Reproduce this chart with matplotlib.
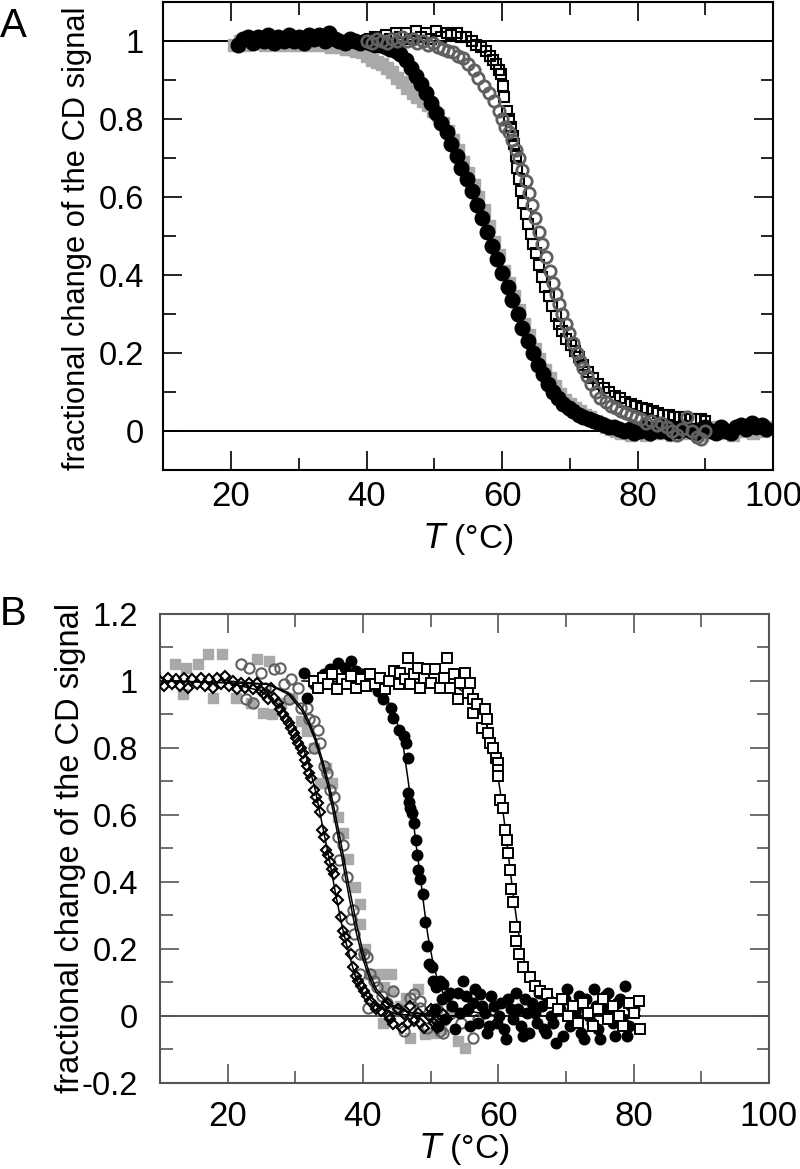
import matplotlib
matplotlib.use("Agg")
import matplotlib.pyplot as plt
from matplotlib.ticker import MultipleLocator, FuncFormatter

plt.rcParams['font.family'] = ['Liberation Sans', 'DejaVu Sans']
plt.rcParams['axes.unicode_minus'] = False

# ---- panel A data (T in degC, fractional change) ----
a_gray_sq = [(20.5, 0.99), (21.3, 1.0), (22.0, 0.99), (22.8, 1.0), (23.5, 0.995), (24.3, 1.0),
             (25.0, 0.99), (25.8, 0.995), (26.5, 1.0), (27.3, 0.99), (28.0, 0.995), (28.8, 0.99),
             (29.5, 1.0), (30.3, 0.99), (31.0, 0.995), (31.8, 0.99), (32.5, 0.995), (33.3, 0.99),
             (34.0, 0.99), (34.8, 0.985), (35.5, 0.99), (36.3, 0.985), (37.0, 0.98), (37.8, 0.98),
             (38.5, 0.975), (39.3, 0.97), (40.0, 0.96), (40.8, 0.95), (41.5, 0.945), (42.3, 0.94),
             (43.0, 0.93), (43.8, 0.92), (44.5, 0.905), (45.3, 0.895), (46.0, 0.88), (46.8, 0.865),
             (47.5, 0.855), (48.3, 0.845), (49.0, 0.835), (49.8, 0.82), (50.5, 0.81), (51.3, 0.79),
             (52.0, 0.77), (52.8, 0.745), (53.5, 0.72), (54.3, 0.69), (55.0, 0.66), (55.8, 0.63),
             (56.5, 0.60), (57.3, 0.565), (58.0, 0.525), (58.8, 0.485), (59.5, 0.45), (60.3, 0.41),
             (61.0, 0.38), (61.8, 0.345), (62.5, 0.31), (63.3, 0.275), (64.0, 0.245), (64.8, 0.21),
             (65.5, 0.185), (66.3, 0.155), (67.0, 0.135), (67.8, 0.115), (68.5, 0.095), (69.3, 0.08),
             (70.0, 0.07), (70.8, 0.06), (71.5, 0.05), (72.3, 0.04), (73.0, 0.035), (73.8, 0.025),
             (74.5, 0.02), (75.3, 0.01), (76.0, 0.005), (76.8, 0.0), (77.5, -0.005), (78.3, 0.0),
             (79.0, -0.01), (79.8, 0.005), (80.5, 0.0), (81.3, -0.01), (82.0, 0.01), (82.8, 0.0),
             (83.5, -0.005), (84.3, 0.005), (85.0, -0.01), (85.8, 0.0), (86.5, 0.01), (87.3, -0.005),
             (88.0, 0.0), (88.8, 0.005), (89.5, -0.01), (90.3, 0.0), (91.0, 0.01), (91.8, -0.005),
             (92.5, 0.005), (93.3, 0.0), (94.0, -0.01), (94.8, 0.005), (95.5, 0.0), (96.3, 0.01),
             (97.0, -0.005), (97.8, 0.005), (98.5, 0.0), (99.3, 0.01)]

a_black_circ = [(21.0, 0.99), (21.8, 1.005), (22.5, 1.01), (23.3, 0.995), (24.0, 1.01), (24.8, 1.0),
                (25.5, 1.015), (26.3, 0.995), (27.0, 1.01), (27.8, 1.0), (28.5, 1.015), (29.3, 1.0),
                (30.0, 1.01), (30.8, 0.995), (31.5, 1.015), (32.3, 1.005), (33.0, 1.015), (33.8, 1.0),
                (34.5, 1.02), (35.3, 1.005), (36.0, 1.0), (36.8, 0.995), (37.5, 1.005), (38.3, 1.0),
                (39.0, 0.995), (39.8, 1.0), (40.5, 0.995), (41.3, 0.99), (42.0, 0.99), (42.8, 0.985),
                (43.5, 0.98), (44.3, 0.975), (45.0, 0.965), (45.8, 0.95), (46.5, 0.93), (47.3, 0.91),
                (48.0, 0.89), (48.8, 0.865), (49.5, 0.84), (50.3, 0.815), (51.0, 0.79), (51.8, 0.765),
                (52.5, 0.735), (53.3, 0.705), (54.0, 0.675), (54.8, 0.645), (55.5, 0.615), (56.3, 0.58),
                (57.0, 0.545), (57.8, 0.51), (58.5, 0.475), (59.3, 0.44), (60.0, 0.405), (60.8, 0.37),
                (61.5, 0.335), (62.3, 0.30), (63.0, 0.265), (63.8, 0.23), (64.5, 0.20), (65.3, 0.17),
                (66.0, 0.145), (66.8, 0.12), (67.5, 0.10), (68.3, 0.085), (69.0, 0.07), (69.8, 0.06),
                (70.5, 0.05), (71.3, 0.04), (72.0, 0.035), (72.8, 0.03), (73.5, 0.025), (74.3, 0.02),
                (75.0, 0.015), (75.8, 0.01), (76.5, 0.01), (77.3, 0.005), (78.0, 0.0), (78.8, 0.005),
                (79.5, -0.005), (80.3, 0.0), (81.0, 0.01), (81.8, -0.005), (82.5, 0.005), (83.3, 0.0),
                (84.0, 0.01), (84.8, -0.005), (85.5, 0.005), (86.3, 0.0), (87.0, 0.01), (87.8, 0.0),
                (88.5, -0.005), (89.3, 0.005), (90.0, 0.01), (90.8, 0.0), (91.5, -0.005), (92.3, 0.01),
                (93.0, 0.0), (93.8, -0.005), (94.5, 0.01), (95.3, 0.015), (96.0, 0.005), (96.8, 0.02),
                (97.5, 0.01), (98.3, 0.015), (99.0, 0.005)]

a_open_sq = [(40.5, 1.005), (41.3, 1.01), (42.0, 1.0), (42.8, 1.015), (43.5, 1.005), (44.3, 1.02),
             (45.0, 1.01), (45.8, 1.02), (46.5, 1.005), (47.3, 1.025), (48.0, 1.01), (48.8, 1.02),
             (49.5, 1.005), (50.3, 1.025), (51.0, 1.01), (51.8, 1.02), (52.5, 1.015), (53.3, 1.02),
             (54.0, 1.01), (54.7, 1.01), (55.5, 1.0), (56.2, 0.99), (56.9, 0.985), (57.6, 0.975),
             (58.2, 0.96), (58.7, 0.95), (59.1, 0.94), (59.5, 0.925), (59.9, 0.915), (60.1, 0.885),
             (60.3, 0.855), (60.7, 0.82), (61.0, 0.80), (61.3, 0.78), (61.6, 0.755), (61.8, 0.735),
             (62.0, 0.705), (62.2, 0.675), (62.5, 0.645), (62.8, 0.615), (63.1, 0.585), (63.5, 0.555),
             (63.8, 0.53), (64.2, 0.505), (64.6, 0.48), (65.0, 0.455), (65.4, 0.425), (65.9, 0.395),
             (66.4, 0.37), (66.9, 0.345), (67.4, 0.32), (67.9, 0.295), (68.4, 0.275), (68.9, 0.255),
             (69.5, 0.235), (70.1, 0.22), (70.7, 0.205), (71.3, 0.19), (72.0, 0.17), (72.7, 0.15),
             (73.4, 0.135), (74.2, 0.12), (75.0, 0.11), (75.8, 0.10), (76.6, 0.09), (77.4, 0.085),
             (78.2, 0.075), (79.0, 0.07), (79.8, 0.065), (80.6, 0.06), (81.4, 0.055), (82.2, 0.05),
             (83.0, 0.045), (83.8, 0.04), (84.6, 0.04), (85.4, 0.035), (86.2, 0.035), (87.0, 0.035),
             (87.8, 0.03), (88.6, 0.03), (89.4, 0.03), (90.0, 0.025)]

a_gray_circ = [(40.0, 1.0), (40.8, 0.995), (41.5, 1.005), (42.3, 1.0), (43.0, 0.995), (43.8, 1.005),
               (44.5, 1.0), (45.3, 1.01), (46.0, 1.0), (46.8, 1.005), (47.5, 0.995), (48.3, 1.0),
               (49.0, 0.99), (49.8, 0.995), (50.5, 0.985), (51.3, 0.98), (52.0, 0.975), (52.8, 0.97),
               (53.5, 0.96), (54.3, 0.955), (55.0, 0.94), (55.8, 0.925), (56.5, 0.905), (57.3, 0.885),
               (58.0, 0.865), (58.8, 0.845), (59.5, 0.82), (60.0, 0.80), (60.5, 0.78), (61.0, 0.765),
               (61.5, 0.745), (62.0, 0.72), (62.5, 0.70), (63.0, 0.67), (63.5, 0.64), (64.0, 0.61),
               (64.4, 0.58), (64.9, 0.545), (65.4, 0.51), (65.9, 0.48), (66.5, 0.445), (67.0, 0.41),
               (67.5, 0.38), (67.9, 0.35), (68.4, 0.325), (68.8, 0.30), (69.4, 0.275), (69.9, 0.25),
               (70.5, 0.225), (71.0, 0.20), (71.5, 0.18), (72.0, 0.16), (72.6, 0.14), (73.1, 0.12),
               (73.8, 0.10), (74.5, 0.085), (75.3, 0.075), (76.0, 0.065), (76.8, 0.06), (77.5, 0.05),
               (78.3, 0.045), (79.0, 0.04), (79.8, 0.035), (80.5, 0.03), (81.3, 0.02), (82.0, 0.025),
               (82.8, 0.015), (83.5, 0.02), (84.3, 0.01), (85.0, 0.0), (85.8, -0.01), (86.5, 0.005),
               (87.3, 0.035), (88.0, 0.0), (88.8, -0.015), (89.4, -0.02), (90.0, 0.0)]

# ---- panel B data ----
b_gray_sq = [(12.2, 1.05), (13.4, 0.96), (13.8, 1.04), (15.6, 1.05), (17.1, 1.08), (17.8, 0.95),
             (19.1, 1.08), (21.2, 0.95), (23.5, 0.935), (24.4, 1.065), (25.3, 0.905), (26.1, 1.06),
             (26.6, 0.90), (27.9, 0.935), (29.5, 0.95), (30.8, 0.88), (31.8, 0.85), (32.8, 0.80),
             (33.7, 0.695), (34.5, 0.74), (35.5, 0.695), (36.3, 0.595), (37.1, 0.545), (37.8, 0.47),
             (38.9, 0.385), (39.6, 0.335), (39.6, 0.275), (40.3, 0.20), (41.1, 0.125), (42.6, 0.125),
             (43.1, 0.085), (44.1, 0.125), (44.1, 0.075), (42.9, -0.02), (45.5, 0.03), (46.3, 0.055),
             (47.0, -0.065), (48.2, 0.08), (49.2, -0.055), (50.5, -0.05), (51.5, -0.04), (53.0, 0.02),
             (54.1, -0.075), (55.1, -0.095)]

b_gray_circ = [(22.0, 1.05), (22.7, 0.945), (23.1, 1.04), (23.7, 0.935), (24.9, 1.025), (25.5, 0.98),
               (26.8, 1.035), (27.8, 1.04), (28.3, 0.99), (29.0, 0.945), (29.3, 1.005), (30.4, 0.98),
               (30.8, 0.92), (31.8, 0.92), (32.0, 0.885), (32.7, 0.88), (32.7, 0.80), (33.3, 0.855),
               (33.7, 0.815), (34.2, 0.745), (34.7, 0.725), (35.2, 0.675), (35.5, 0.62), (35.7, 0.655),
               (36.3, 0.535), (37.0, 0.51), (36.4, 0.465), (37.7, 0.415), (38.5, 0.315), (38.2, 0.29),
               (38.7, 0.245), (39.6, 0.185), (40.1, 0.185), (40.6, 0.175), (39.6, 0.125), (41.1, 0.125),
               (41.6, 0.105), (42.1, 0.085), (40.8, 0.025), (42.8, 0.06), (43.5, 0.04), (44.5, 0.075),
               (45.2, 0.02), (46.0, -0.045), (47.0, 0.055), (47.5, 0.065), (48.5, 0.045), (48.5, 0.025),
               (49.5, -0.035), (50.3, 0.0), (51.0, 0.02), (51.4, -0.045), (51.9, -0.05), (53.0, 0.01),
               (54.5, -0.02), (56.3, -0.065), (57.0, -0.01)]

b_diamond = [(10.0, 1.0), (10.6, 0.985), (11.2, 1.01), (11.8, 0.99), (12.4, 1.005), (13.0, 0.985),
             (13.6, 1.01), (14.2, 0.98), (14.8, 1.005), (15.4, 0.99), (16.0, 1.01), (16.6, 0.985),
             (17.2, 1.005), (17.8, 0.98), (18.4, 1.01), (19.0, 0.99), (19.6, 1.015), (20.2, 0.985),
             (20.8, 1.0), (21.4, 0.975), (22.0, 0.995), (22.6, 0.98), (23.2, 0.995), (23.8, 0.975),
             (24.4, 0.995), (24.9, 0.97), (25.4, 0.96), (25.9, 0.945), (26.4, 0.98), (26.9, 0.95),
             (27.4, 0.935), (27.8, 0.915), (28.2, 0.90), (28.6, 0.885), (29.0, 0.875), (29.3, 0.86),
             (29.8, 0.845), (30.1, 0.83), (30.4, 0.815), (30.8, 0.80), (31.1, 0.785), (31.5, 0.765),
             (31.8, 0.745), (32.1, 0.725), (32.3, 0.71), (32.7, 0.675), (33.0, 0.655), (33.3, 0.635),
             (33.7, 0.61), (34.0, 0.555), (34.2, 0.535), (34.5, 0.495), (34.8, 0.48), (35.2, 0.46),
             (35.5, 0.44), (35.7, 0.425), (36.0, 0.375), (36.3, 0.345), (36.7, 0.295), (37.1, 0.255),
             (37.4, 0.235), (37.7, 0.215), (38.2, 0.185), (38.6, 0.145), (39.0, 0.12), (39.3, 0.105),
             (39.7, 0.09), (40.1, 0.075), (40.6, 0.06), (41.1, 0.045), (41.8, 0.03), (42.0, 0.02),
             (42.6, 0.015), (43.2, 0.03), (43.5, 0.04), (43.8, 0.0), (44.0, -0.01), (44.5, -0.025),
             (45.2, 0.02), (45.8, -0.035), (46.0, 0.005), (46.7, -0.02), (47.0, 0.03), (47.5, -0.015),
             (48.2, 0.01), (48.5, -0.02), (49.0, -0.035), (49.8, 0.0), (50.0, 0.02), (50.5, -0.02),
             (50.8, -0.015), (51.0, -0.035), (51.8, 0.005), (52.5, -0.01)]

b_black_circ = [(31.3, 1.025), (31.8, 0.95), (32.7, 0.99), (33.5, 1.0), (34.3, 1.02), (35.2, 1.035),
                (36.3, 1.055), (37.3, 1.04), (38.2, 1.06), (39.0, 1.03), (39.8, 1.02), (40.6, 1.0),
                (41.4, 0.99), (42.2, 0.97), (43.0, 0.945), (44.1, 0.92), (44.5, 0.89), (45.3, 0.855),
                (46.0, 0.835), (46.3, 0.815), (46.6, 0.77), (46.6, 0.665), (46.8, 0.64), (47.0, 0.62),
                (47.3, 0.605), (47.5, 0.575), (47.8, 0.525), (48.0, 0.48), (48.2, 0.435), (48.5, 0.41),
                (48.9, 0.365), (49.2, 0.28), (49.5, 0.21), (49.8, 0.155), (50.2, 0.145), (50.4, 0.105),
                (50.8, 0.085), (51.4, 0.105), (51.9, 0.095), (52.5, 0.06), (53.2, 0.03), (54.0, 0.07),
                (54.8, 0.105), (55.5, 0.02), (56.2, 0.04), (57.0, -0.02), (57.3, 0.065), (58.0, 0.01),
                (58.7, -0.03), (59.4, 0.03), (60.1, 0.0), (60.8, -0.04), (61.5, 0.05), (62.2, -0.01),
                (62.9, 0.02), (63.6, -0.06), (64.3, 0.01), (65.0, 0.04), (65.7, -0.02), (66.4, 0.03),
                (67.1, -0.05), (67.8, 0.0), (68.5, -0.08), (69.2, 0.02), (69.9, 0.05), (70.6, -0.03),
                (71.3, 0.01), (72.0, 0.06), (72.7, -0.07), (73.4, 0.0), (74.1, 0.08), (74.8, -0.04),
                (75.5, 0.02), (76.2, 0.07), (76.9, -0.02), (77.6, 0.04), (78.3, -0.01), (79.0, -0.06),
                (79.7, 0.03),
                (50.6, 0.02), (51.1, -0.03), (51.7, 0.05), (52.2, -0.01), (52.8, 0.07), (53.6, -0.04),
                (54.4, 0.01), (55.2, 0.06), (55.9, -0.03), (56.6, 0.08), (57.6, 0.03), (58.3, -0.05),
                (59.0, 0.06), (59.8, -0.02), (60.4, 0.04), (61.1, -0.07), (61.9, 0.02), (62.6, 0.07),
                (63.3, -0.03), (64.0, 0.05), (64.6, -0.05), (65.4, 0.01), (66.0, 0.07), (66.8, -0.04),
                (67.4, 0.05), (68.1, -0.02), (68.9, 0.04), (69.6, -0.06), (70.2, 0.08), (70.9, -0.01),
                (71.6, 0.03), (72.3, -0.05), (73.0, 0.05), (73.8, -0.02), (74.4, 0.03), (75.1, -0.07),
                (75.8, 0.06), (76.5, 0.0), (77.3, -0.06), (78.0, 0.05), (78.7, 0.09), (79.4, -0.03),
                (80.0, 0.02)]

b_open_sq = [(32.7, 1.0), (33.4, 0.98), (34.1, 1.01), (34.8, 0.99), (35.5, 1.02), (36.2, 0.975),
             (36.9, 1.005), (37.6, 0.99), (38.3, 1.015), (39.0, 0.98), (39.7, 1.005), (40.4, 0.985),
             (41.1, 1.02), (41.8, 0.99), (42.5, 1.01), (43.2, 0.975), (43.9, 1.0), (44.6, 1.03),
             (45.3, 0.99), (45.5, 1.025), (46.2, 1.005), (46.7, 1.07), (47.0, 0.99), (47.6, 1.02),
             (48.2, 1.04), (48.5, 0.98), (49.0, 1.01), (49.5, 1.035), (50.0, 0.995), (50.7, 1.035),
             (51.4, 0.98), (52.0, 1.01), (52.5, 1.07), (52.9, 0.98), (53.5, 1.02), (54.1, 0.945),
             (54.4, 0.995), (55.1, 1.025), (55.6, 0.965), (55.9, 0.995), (56.2, 0.945), (56.2, 0.905),
             (56.9, 0.93), (57.6, 0.86), (58.1, 0.915), (58.4, 0.885), (58.5, 0.845), (58.8, 0.815),
             (59.3, 0.80), (59.6, 0.77), (59.9, 0.755), (60.0, 0.735), (59.9, 0.715), (60.3, 0.645),
             (60.7, 0.62), (61.0, 0.555), (61.3, 0.525), (61.5, 0.485), (61.8, 0.435), (61.9, 0.38),
             (62.2, 0.34), (62.5, 0.265), (62.7, 0.225), (63.0, 0.185), (63.7, 0.145), (64.7, 0.115),
             (65.5, 0.09), (66.2, 0.075), (67.2, 0.065), (68.0, 0.04), (68.8, 0.02), (69.5, 0.05),
             (70.3, 0.0), (71.0, 0.03), (71.8, -0.02), (72.5, 0.04), (73.3, 0.01), (74.0, -0.03),
             (74.8, 0.02), (75.5, 0.05), (76.3, -0.01), (77.0, 0.03), (77.8, 0.0), (78.5, -0.03),
             (79.3, 0.04), (80.0, 0.01), (80.8, 0.045), (81.0, -0.04)]

# fitted curves drawn through panel B
fit_diamond = [(10, 1.0), (20, 0.995), (25, 0.97), (28, 0.92), (30, 0.86), (31, 0.81), (32, 0.75),
               (33, 0.67), (34, 0.57), (35, 0.47), (36, 0.36), (37, 0.26), (38, 0.18), (39, 0.11),
               (40, 0.07), (42, 0.03), (45, 0.005), (50, 0.0), (53, 0.0)]
fit_gray_circ = [(20, 1.0), (26, 0.99), (29, 0.96), (31, 0.91), (32, 0.87), (33, 0.82), (34, 0.75),
                 (35, 0.67), (36, 0.57), (37, 0.46), (38, 0.35), (39, 0.25), (40, 0.17), (41, 0.11),
                 (42, 0.07), (44, 0.03), (47, 0.01), (52, 0.0), (57, 0.0)]
fit_gray_sq = [(12, 1.0), (26, 0.99), (29, 0.965), (31, 0.92), (32, 0.88), (33, 0.83), (34, 0.765),
               (35, 0.69), (36, 0.595), (37, 0.49), (38, 0.38), (39, 0.28), (40, 0.19), (41, 0.125),
               (42, 0.08), (44, 0.035), (47, 0.01), (52, 0.0), (55, 0.0)]
fit_black_circ = [(31, 1.0), (40, 0.995), (42, 0.98), (43, 0.96), (44, 0.93), (45, 0.88), (46, 0.80),
                  (46.7, 0.70), (47.3, 0.61), (47.8, 0.52), (48.4, 0.43), (49.0, 0.33), (49.6, 0.24),
                  (50.3, 0.165), (51, 0.11), (52, 0.06), (54, 0.02), (60, 0.0), (80, 0.0)]
fit_open_sq = [(33, 1.0), (50, 0.995), (54, 0.98), (56, 0.95), (57, 0.92), (58, 0.88), (59, 0.82),
               (59.7, 0.75), (60.3, 0.67), (60.9, 0.58), (61.5, 0.48), (62.1, 0.38), (62.7, 0.29),
               (63.3, 0.21), (64, 0.15), (65, 0.10), (67, 0.045), (70, 0.015), (81, 0.0)]

LIGHT = '#a9a9a9'
MID = '#606060'


def xy(pairs):
    return [p[0] for p in pairs], [p[1] for p in pairs]


def style_axes(ax, spine_col, ylim, yfmt, xpad, ypad):
    ax.set_xlim(10, 100)
    ax.set_ylim(*ylim)
    ax.xaxis.set_major_locator(MultipleLocator(20))
    ax.xaxis.set_minor_locator(MultipleLocator(10))
    ax.yaxis.set_major_locator(MultipleLocator(0.2))
    ax.yaxis.set_minor_locator(MultipleLocator(0.1))
    ax.yaxis.set_major_formatter(FuncFormatter(yfmt))
    ax.tick_params(which='both', direction='in', top=True, right=True, color=spine_col, width=1.2)
    ax.tick_params(which='major', length=14)
    ax.tick_params(which='minor', length=9)
    ax.tick_params(axis='x', which='major', labelsize=25, pad=xpad)
    ax.tick_params(axis='y', which='major', labelsize=23.5, pad=ypad)
    for s in ax.spines.values():
        s.set_color(spine_col)
        s.set_linewidth(1.5)


def fmt(v, pos):
    v = round(v, 1)
    if v == int(v):
        return '%d' % v
    return '%g' % v


fig = plt.figure(figsize=(8, 11.69), dpi=100)

# ---------------- panel A ----------------
axA = fig.add_axes([0.204, 0.598, 0.7625, 0.4005])
axA.axhline(0, color='black', lw=1.4, zorder=1)
axA.axhline(1, color='black', lw=1.4, zorder=1)
x, y = xy(a_gray_sq)
axA.plot(x, y, 's', ms=8.5, color=LIGHT, mec=LIGHT, zorder=2)
x, y = xy(a_black_circ)
axA.plot(x, y, 'o', ms=10.5, color='black', zorder=3)
x, y = xy(a_open_sq)
axA.plot(x, y, 's', ms=7.8, mfc='none', mec='black', mew=1.5, zorder=4)
x, y = xy(a_gray_circ)
axA.plot(x, y, 'o', ms=8.2, mfc='none', mec=MID, mew=2.0, zorder=5)
style_axes(axA, 'black', (-0.1, 1.1), fmt, 7, 14)
axA.set_ylabel('fractional change of the CD signal', fontsize=22.2)
axA.yaxis.set_label_coords(-0.117, 0.495)
axA.set_xlabel(r'$\mathit{T}$ (°C)', fontsize=24)
axA.xaxis.set_label_coords(0.5, -0.108)

# ---------------- panel B ----------------
axB = fig.add_axes([0.2, 0.0736, 0.761, 0.4012])
axB.axhline(0, color='#555555', lw=1.4, zorder=1)
x, y = xy(b_gray_sq)
axB.plot(x, y, 's', ms=7, color=LIGHT, mec=LIGHT, zorder=2)
x, y = xy(b_gray_circ)
axB.plot(x, y, 'o', ms=7.4, mfc='none', mec=MID, mew=1.5, zorder=3)
for fit in (fit_gray_sq, fit_gray_circ, fit_diamond, fit_black_circ, fit_open_sq):
    x, y = xy(fit)
    axB.plot(x, y, '-', color='black', lw=1.1, zorder=4)
x, y = xy(b_diamond)
axB.plot(x, y, 'D', ms=5.6, mfc='none', mec='black', mew=1.5, zorder=5)
x, y = xy(b_black_circ)
axB.plot(x, y, 'o', ms=7.6, color='black', zorder=6)
x, y = xy(b_open_sq)
axB.plot(x, y, 's', ms=6.8, mfc='white', mec='black', mew=1.4, zorder=7)
style_axes(axB, '#555555', (-0.2, 1.2), fmt, 12, 16)
axB.set_ylabel('fractional change of the CD signal', fontsize=23.5)
axB.yaxis.set_label_coords(-0.122, 0.5)
axB.set_xlabel(r'$\mathit{T}$ (°C)', fontsize=24)
axB.xaxis.set_label_coords(0.5, -0.103)

fig.text(0.0, 0.994, 'A', fontsize=29, ha='left', va='top')
fig.text(0.0, 0.491, 'B', fontsize=29, ha='left', va='top')

fig.savefig('out.png', dpi=100)
